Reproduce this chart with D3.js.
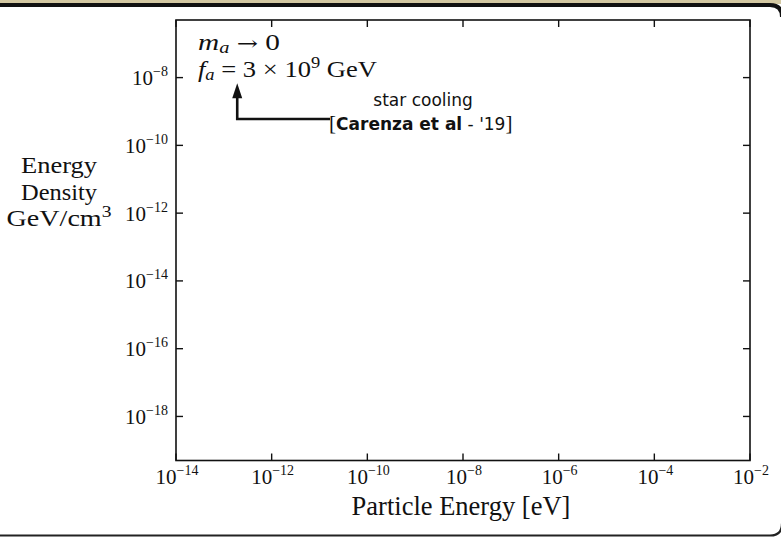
<!DOCTYPE html>
<html>
<head>
<meta charset="utf-8">
<script src="https://cdn.jsdelivr.net/npm/d3@7"></script>
<style>
  html, body { margin: 0; padding: 0; background: #fff; }
  svg { display: block; }
  .serif { font-family: "Liberation Serif", "DejaVu Serif", serif; fill: #111; }
  .sans { font-family: "DejaVu Sans", "Noto Sans", sans-serif; fill: #111; }
</style>
</head>
<body>
<svg id="chart" width="781" height="537"></svg>
<script>
// Axis extents (log10 exponents) and labelled decades
const xDomainExp = [-14, -2];
const yDomainExp = [-19.3, -6.3];
const xTickExps = [-14, -12, -10, -8, -6, -4, -2];
const yTickExps = [-18, -16, -14, -12, -10, -8];

// Axis titles
const xTitle = "Particle Energy [eV]";
const yTitleLines = ["Energy", "Density", "GeV/cm"];

// Star-cooling bound annotation: arrow path in data units (log10 exponents)
const arrowPath = [[-10.78, -9.22], [-12.72, -9.22], [-12.72, -8.17]];
const noteAnchor = [-10.8, -9.55];

const W = 781, H = 537;
const plot = { left: 176, right: 750, top: 20, bottom: 460.5 };

const svg = d3.select("#chart");

// Slide frame: tan strip, dark top rule and rounded right corners
svg.append("rect").attr("x", 0).attr("y", 0).attr("width", W).attr("height", 4).attr("fill", "#d3c8a2");
svg.append("path")
  .attr("d", `M0,5 H770 Q782,5 782,17`)
  .attr("fill", "none").attr("stroke", "#111").attr("stroke-width", 4);
svg.append("path")
  .attr("d", `M0,535.5 H770 Q782,535.5 782,523.5`)
  .attr("fill", "none").attr("stroke", "#222").attr("stroke-width", 2.2);

const x = d3.scaleLog().domain(xDomainExp.map(e => Math.pow(10, e))).range([plot.left, plot.right]);
const y = d3.scaleLog().domain(yDomainExp.map(e => Math.pow(10, e))).range([plot.bottom, plot.top]);

const g = svg.append("g");

// Plot box
g.append("rect")
  .attr("x", plot.left).attr("y", plot.top)
  .attr("width", plot.right - plot.left).attr("height", plot.bottom - plot.top)
  .attr("fill", "none").attr("stroke", "#111").attr("stroke-width", 1.6);

const tickLen = 7;
const xTicks = xTickExps.map(e => Math.pow(10, e));
const yTicks = yTickExps.map(e => Math.pow(10, e));

// Inward ticks on all four sides
g.selectAll(".xtb").data(xTicks).join("line")
  .attr("x1", d => x(d)).attr("x2", d => x(d))
  .attr("y1", plot.bottom).attr("y2", plot.bottom - tickLen)
  .attr("stroke", "#111").attr("stroke-width", 1.4);
g.selectAll(".xtt").data(xTicks).join("line")
  .attr("x1", d => x(d)).attr("x2", d => x(d))
  .attr("y1", plot.top).attr("y2", plot.top + tickLen)
  .attr("stroke", "#111").attr("stroke-width", 1.4);
g.selectAll(".ytl").data(yTicks).join("line")
  .attr("x1", plot.left).attr("x2", plot.left + tickLen)
  .attr("y1", d => y(d)).attr("y2", d => y(d))
  .attr("stroke", "#111").attr("stroke-width", 1.4);
g.selectAll(".ytr").data(yTicks).join("line")
  .attr("x1", plot.right).attr("x2", plot.right - tickLen)
  .attr("y1", d => y(d)).attr("y2", d => y(d))
  .attr("stroke", "#111").attr("stroke-width", 1.4);

function powerLabel(sel, exp) {
  sel.append("tspan").text("10");
  sel.append("tspan").attr("dy", -9).attr("font-size", 14).text("\u2212" + Math.abs(exp));
}

// X tick labels
xTickExps.forEach(e => {
  const t = g.append("text").attr("class", "serif")
    .attr("x", x(Math.pow(10, e)) + 1).attr("y", plot.bottom + 23)
    .attr("text-anchor", "middle").attr("font-size", 21);
  powerLabel(t, e);
});

// Y tick labels
yTickExps.forEach(e => {
  const t = g.append("text").attr("class", "serif")
    .attr("x", plot.left - 8).attr("y", y(Math.pow(10, e)) + 7.5)
    .attr("text-anchor", "end").attr("font-size", 21);
  powerLabel(t, e);
});

// Axis titles
g.append("text").attr("class", "serif")
  .attr("x", 461).attr("y", 515)
  .attr("text-anchor", "middle").attr("font-size", 26.5)
  .text(xTitle);

const yTitleWidths = [76, 76, 105];
yTitleLines.forEach((line, i) => {
  const t = g.append("text").attr("class", "serif")
    .attr("x", 59).attr("y", 173 + i * 26.5)
    .attr("text-anchor", "middle").attr("font-size", 23)
    .attr("textLength", yTitleWidths[i]).attr("lengthAdjust", "spacingAndGlyphs");
  t.append("tspan").text(line);
  if (i === yTitleLines.length - 1) {
    t.append("tspan").attr("dy", -9).attr("font-size", 16).text("3");
  }
});

// Parameter note in the upper-left corner
const n1 = g.append("text").attr("class", "serif").attr("x", 198).attr("y", 50).attr("font-size", 23)
  .attr("textLength", 82).attr("lengthAdjust", "spacingAndGlyphs");
n1.append("tspan").attr("font-style", "italic").text("m");
n1.append("tspan").attr("font-style", "italic").attr("font-size", 16).attr("dy", 3).text("a");
n1.append("tspan").attr("dy", -3).text(" ");
n1.append("tspan").attr("font-family", "DejaVu Serif").attr("font-size", 20).text("\u2192");
n1.append("tspan").text(" 0");

const n2 = g.append("text").attr("class", "serif").attr("x", 198).attr("y", 77).attr("font-size", 23)
  .attr("textLength", 179).attr("lengthAdjust", "spacingAndGlyphs");
n2.append("tspan").attr("font-style", "italic").text("f");
n2.append("tspan").attr("font-style", "italic").attr("font-size", 16).attr("dy", 3).text("a");
n2.append("tspan").attr("dy", -3).text(" = 3 \u00d7 10");
n2.append("tspan").attr("font-size", 16).attr("dy", -9).text("9");
n2.append("tspan").attr("dy", 9).text(" GeV");

// Bound arrow
const arrowLine = d3.line().x(d => x(Math.pow(10, d[0]))).y(d => y(Math.pow(10, d[1])));
const tip = arrowPath[arrowPath.length - 1];
const tipX = x(Math.pow(10, tip[0])), tipY = y(Math.pow(10, tip[1]));
g.append("path")
  .attr("d", arrowLine(arrowPath.slice(0, -1).concat([[tip[0], tip[1] - 0.35]])))
  .attr("fill", "none").attr("stroke", "#111").attr("stroke-width", 2.6);
g.append("path")
  .attr("d", `M${tipX},${tipY} L${tipX - 5},${tipY + 15} L${tipX + 5},${tipY + 15} Z`)
  .attr("fill", "#111");

const ax = x(Math.pow(10, noteAnchor[0]));
const ay = y(Math.pow(10, noteAnchor[1]));
g.append("text").attr("class", "sans")
  .attr("x", ax + 94).attr("y", ay - 24)
  .attr("text-anchor", "middle").attr("font-size", 17)
  .text("star cooling");
const ref = g.append("text").attr("class", "sans")
  .attr("x", ax).attr("y", ay).attr("font-size", 17);
ref.append("tspan").attr("font-family", "Liberation Serif").attr("font-size", 21).text("[");
ref.append("tspan").attr("font-weight", "bold").text("Carenza et al");
ref.append("tspan").text(" - '19");
ref.append("tspan").attr("font-family", "Liberation Serif").attr("font-size", 21).text("]");
</script>
</body>
</html>
